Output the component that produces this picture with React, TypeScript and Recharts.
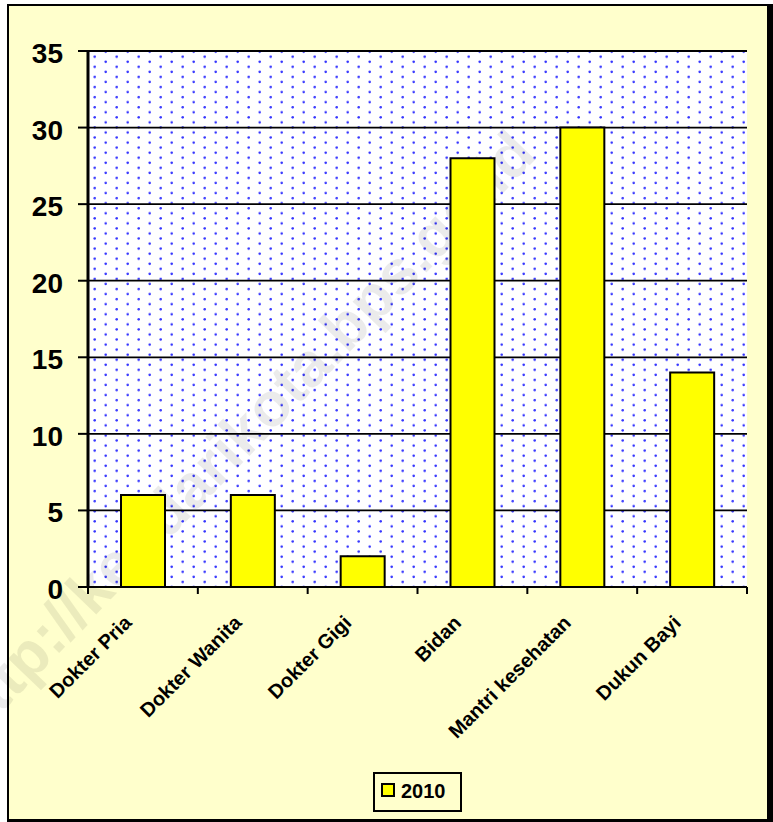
import React from "react";
import { BarChart, Bar, XAxis, YAxis, CartesianGrid, Customized } from "recharts";

const categories = ["Dokter Pria", "Dokter Wanita", "Dokter Gigi", "Bidan", "Mantri kesehatan", "Dukun Bayi"];
const values2010 = [6, 6, 2, 28, 30, 14];
const yTicks = [0, 5, 10, 15, 20, 25, 30, 35];
const seriesName = "2010";
const watermark = "http://kendarikota.bps.go.id";

const data = categories.map((c, i) => ({ name: c, v: values2010[i] }));

const W = 773;
const H = 822;
const M = { top: 51, right: 26, left: 0, bottom: 65 };
const YW = 88;
const PLOT_W = W - M.left - M.right - YW;
const BAND = PLOT_W / categories.length;
const FONT = "'Liberation Sans', Arial, sans-serif";

const XTick = (props: any) => {
  const { x, y, payload, index } = props;
  const left = x - BAND / 2;
  return (
    <g>
      <line x1={left} y1={y - 8} x2={left} y2={y - 1} stroke="#000" strokeWidth={2} />
      {index === categories.length - 1 && (
        <line x1={x + BAND / 2} y1={y - 8} x2={x + BAND / 2} y2={y - 1} stroke="#000" strokeWidth={2} />
      )}
      <text
        transform={`translate(${x - 10},${y + 29}) rotate(-45)`}
        textAnchor="end"
        fontFamily={FONT}
        fontWeight="bold"
        fontSize={20}
        fill="#000"
      >
        {payload.value}
      </text>
    </g>
  );
};

const LegendBox = () => (
  <div
    style={{
      position: "absolute",
      left: 373,
      top: 772,
      width: 89,
      height: 40,
      border: "2px solid #000",
      boxSizing: "border-box",
      fontFamily: FONT,
      fontWeight: "bold",
      fontSize: 20,
    }}
  >
    <span
      style={{
        position: "absolute",
        left: 6,
        top: 9,
        width: 14,
        height: 14,
        background: "#FFFF00",
        border: "2px solid #000",
        boxSizing: "border-box",
      }}
    />
    <span style={{ position: "absolute", left: 26, top: 6, lineHeight: "23px" }}>{seriesName}</span>
  </div>
);

const Watermark = () => (
  <text
    transform="translate(256,449) rotate(-46)"
    textAnchor="middle"
    fontFamily={FONT}
    fontWeight="bold"
    fontSize={62}
    fill="#000"
    fillOpacity={0.08}
  >
    {watermark}
  </text>
);

export default function App() {
  return (
    <div style={{ position: "absolute", left: 0, top: 0, width: W, height: H, overflow: "hidden", background: "#fff" }}>
      <svg width={0} height={0} style={{ position: "absolute" }}>
        <defs>
          <pattern id="dots" width={22} height={10.1} patternUnits="userSpaceOnUse" x={88} y={50}>
            <rect width={22} height={10.1} fill="#fff" />
            <circle cx={6.7} cy={6.7} r={1.3} fill="#3535ff" />
            <circle cx={17.7} cy={1.7} r={1.3} fill="#3535ff" />
          </pattern>
        </defs>
      </svg>
      <div style={{ position: "absolute", left: 7, top: 4, width: 766, height: 818, background: "#000" }} />
      <div style={{ position: "absolute", left: 9, top: 6, width: 758, height: 813, background: "#FFFFCC" }} />
      <div style={{ position: "absolute", left: 0, top: 0 }}>
        <BarChart width={W} height={H} data={data} margin={M}>
          <CartesianGrid
            vertical={false}
            stroke="#000"
            strokeWidth={1.8}
            strokeOpacity={1}
            fill="url(#dots)"
            fillOpacity={1}
          />
          <XAxis
            dataKey="name"
            height={170}
            interval={0}
            tick={<XTick />}
            tickLine={false}
            axisLine={{ stroke: "#000", strokeWidth: 2 }}
          />
          <YAxis
            width={YW}
            domain={[0, 35]}
            ticks={yTicks}
            interval={0}
            tickSize={10}
            tickMargin={15}
            tickLine={{ stroke: "#000", strokeWidth: 2 }}
            axisLine={{ stroke: "#000", strokeWidth: 3 }}
            tick={{ fontFamily: FONT, fontWeight: "bold", fontSize: 28, fill: "#000", dy: 2 }}
          />
          <YAxis
            yAxisId="r"
            orientation="right"
            width={0}
            tick={false}
            tickLine={false}
            axisLine={{ stroke: "#888", strokeWidth: 2 }}
          />
          <Bar
            dataKey="v"
            name={seriesName}
            fill="#FFFF00"
            stroke="#000"
            strokeWidth={2}
            barSize={44}
            isAnimationActive={false}
          />
          <Customized component={Watermark} />
        </BarChart>
      </div>
      <LegendBox />
    </div>
  );
}
